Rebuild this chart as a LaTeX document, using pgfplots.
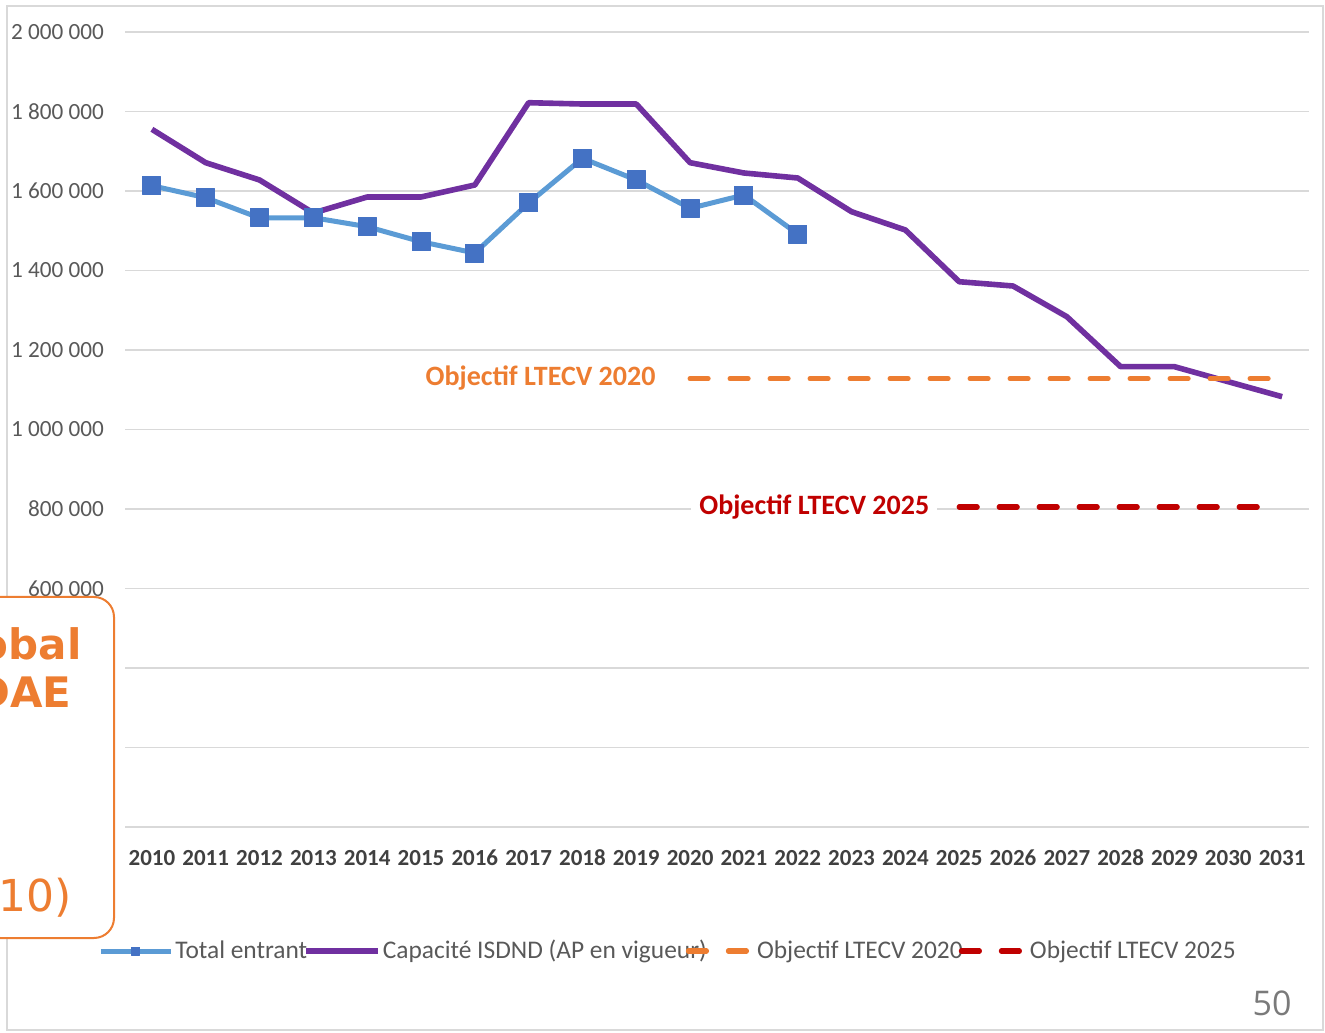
\documentclass[border=0pt]{standalone}
\usepackage{fontspec}
\setmainfont{Carlito}
\newfontfamily\verdana{DejaVu Sans}
\newfontfamily\opensans{Open Sans}
\usepackage{pgfplots}
\pgfplotsset{compat=1.18}
\definecolor{cblue}{HTML}{5B9BD5}
\definecolor{cmark}{HTML}{4472C4}
\definecolor{cpurple}{HTML}{7030A0}
\definecolor{corange}{HTML}{ED7D31}
\definecolor{cred}{HTML}{C00000}
\definecolor{cgrid}{HTML}{D9D9D9}
\definecolor{ctext}{HTML}{595959}
\definecolor{cyear}{HTML}{404040}

\pgfplotsset{
  legmark/.style={legend image code/.code={\draw[##1, mark size=2pt, mark repeat=2, mark phase=2] plot coordinates {(0pt,0pt) (17.5pt,0pt) (35pt,0pt)};}},
  legline/.style={legend image code/.code={\draw[##1] (0pt,0pt) -- (#1,0pt);}},
}

\begin{document}
\begin{tikzpicture}
\useasboundingbox (0,0) rectangle (662.5pt,516pt);
\clip (0,0) rectangle (662.5pt,516pt);
\draw[cgrid, line width=0.8pt] (3.5pt,1pt) rectangle (661.5pt,513pt);
\begin{axis}[
  at={(62.5pt,102.5pt)}, anchor=south west,
  scale only axis, width=592pt, height=397.5pt,
  xmin=2009.5, xmax=2031.5, ymin=0, ymax=2000000,
  axis line style={draw=none}, major tick length=0pt,
  xtick={2010,2011,...,2031},
  ytick={0,200000,400000,600000,800000,1000000,1200000,1400000,1600000,1800000,2000000},
  yticklabels={0,200 000,400 000,600 000,800 000,1 000 000,1 200 000,1 400 000,1 600 000,1 800 000,2 000 000},
  scaled y ticks=false,
  /pgf/number format/assume math mode=true,
  /pgf/number format/1000 sep={},
  ymajorgrids, grid style={cgrid, line width=0.8pt},
  yticklabel style={font=\fontsize{11.6}{13}\selectfont, text=ctext, xshift=-7pt},
  xticklabel style={font=\bfseries\fontsize{11.5}{13}\selectfont, text=cyear, yshift=-8pt},
  legend columns=4,
  legend style={draw=none, fill=none, inner sep=0pt, at={(-0.0228,-0.156)}, anchor=west,
    font=\fontsize{12.7}{14}\selectfont, text=ctext,
    nodes={inner xsep=1pt, inner ysep=0pt},
    /tikz/column 2/.style={column sep=-3pt},
    /tikz/column 4/.style={column sep=-11.5pt},
    /tikz/column 5/.style={column sep=2pt},
    /tikz/column 6/.style={column sep=-3pt}},
]
\addplot[cblue, line width=2.5pt, line join=round, mark=square*, mark size=4.5pt,
  mark options={fill=cmark, draw=cmark, line width=0.5pt}, legmark]
coordinates {(2010,1613300) (2011,1583100) (2012,1532100) (2013,1532800) (2014,1510200)
 (2015,1472400) (2016,1444000) (2017,1569800) (2018,1682200) (2019,1627700)
 (2020,1556400) (2021,1589900) (2022,1491800)};
\addlegendentry{Total entrant}
\addplot[cpurple, line width=2.8pt, line join=round, mark=none, legline=36pt]
coordinates {(2010,1755200) (2011,1671200) (2012,1627700) (2013,1544600) (2014,1584900)
 (2015,1584900) (2016,1615100) (2017,1822100) (2018,1818800) (2019,1818800)
 (2020,1671200) (2021,1645300) (2022,1632700) (2023,1547900) (2024,1501900)
 (2025,1371800) (2026,1361000) (2027,1283800) (2028,1158000) (2029,1158000)
 (2030,1120200) (2031,1082500)};
\addlegendentry{Capacité ISDND (AP en vigueur)}
\addplot[corange, line width=2.6pt, line cap=round, dash pattern=on 9pt off 11pt, mark=none, legline=30pt]
coordinates {(2020,1128000) (2031,1128000)};
\addlegendentry{Objectif LTECV 2020}
\addplot[cred, line width=2.6pt, line cap=round, dash pattern=on 9pt off 11pt, mark=none, legline=32pt]
coordinates {(2025,805000) (2030.6,805000)};
\addlegendentry{Objectif LTECV 2025}
\node[anchor=east, text=corange, font=\bfseries\fontsize{14}{16}\selectfont, inner sep=2pt]
  at (axis cs:2019.44,1130000) {Objectif LTECV 2020};
\node[anchor=east, text=cred, font=\bfseries\fontsize{14}{16}\selectfont, fill=white, inner sep=4pt]
  at (axis cs:2024.6,805000) {Objectif LTECV 2025};
\end{axis}
\draw[corange, line width=1pt, fill=white, rounded corners=10pt] (-10pt,47pt) rectangle (57pt,217.5pt);
\node[anchor=base east, inner sep=0pt, text=corange, font=\verdana\bfseries\fontsize{21}{22}\selectfont] at (41pt,186pt) {obal};
\node[anchor=base east, inner sep=0pt, text=corange, font=\verdana\bfseries\fontsize{21}{22}\selectfont] at (36pt,162pt) {DAE};
\node[anchor=base east, inner sep=0pt, text=corange, font=\verdana\fontsize{22}{24}\selectfont] at (36pt,60pt) {10)};
\node[anchor=base east, inner sep=0pt, text=ctext!80, font=\opensans\fontsize{17}{19}\selectfont] at (646pt,8.5pt) {50};
\end{tikzpicture}
\end{document}
